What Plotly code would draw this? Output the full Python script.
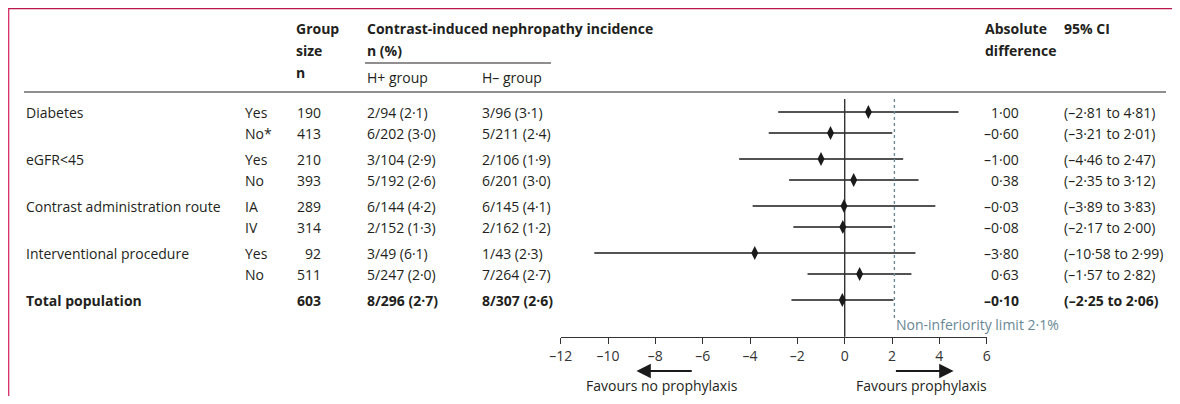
import plotly.graph_objects as go

# ---------------- data ----------------
categories = ["Diabetes", "", "eGFR<45", "", "Contrast administration route", "",
              "Interventional procedure", "", "Total population"]
subgroups = ["Yes", "No*", "Yes", "No", "IA", "IV", "Yes", "No", ""]
group_n = [190, 413, 210, 393, 289, 314, 92, 511, 603]
h_plus = ["2/94 (2·1)", "6/202 (3·0)", "3/104 (2·9)", "5/192 (2·6)", "6/144 (4·2)",
          "2/152 (1·3)", "3/49 (6·1)", "5/247 (2·0)", "8/296 (2·7)"]
h_minus = ["3/96 (3·1)", "5/211 (2·4)", "2/106 (1·9)", "6/201 (3·0)", "6/145 (4·1)",
           "2/162 (1·2)", "1/43 (2·3)", "7/264 (2·7)", "8/307 (2·6)"]
abs_diff = [1.00, -0.60, -1.00, 0.38, -0.03, -0.08, -3.80, 0.63, -0.10]
ci_low = [-2.81, -3.21, -4.46, -2.35, -3.89, -2.17, -10.58, -1.57, -2.25]
ci_high = [4.81, 2.01, 2.47, 3.12, 3.83, 2.00, 2.99, 2.82, 2.06]
noninf_limit = 2.1
tick_vals = [-12, -10, -8, -6, -4, -2, 0, 2, 4, 6]

# ---------------- layout constants (page pixel coordinates) ----------------
PAGE_W, PAGE_H = 1180, 404
OFF = 8                                  # default html body margin
W, H = PAGE_W - 2 * OFF, PAGE_H - 2 * OFF
ROW_Y = [112, 133, 159, 180, 206, 227, 253, 274, 300]
BOLD_ROWS = {8}
FONT = "Open Sans"
TXT = "#231f20"
FS = 14
PX0, PX1 = 560.7, 986.7          # page pixel positions of -12 and 6
AXIS_Y = 336.7


def fmt(v, nd=2):
    return f"{v:.{nd}f}".replace(".", "·").replace("-", "–")


def px(x):
    return (x - OFF) / W


def py(y):
    return 1 - (y - OFF) / H


fig = go.Figure()

# forest: CI lines
for i, (lo, hi) in enumerate(zip(ci_low, ci_high)):
    fig.add_trace(go.Scatter(x=[lo, hi], y=[ROW_Y[i], ROW_Y[i]], mode="lines",
                             line=dict(color="#1a1a1a", width=1.4),
                             hoverinfo="skip", showlegend=False))

# zero line and non-inferiority line
fig.add_trace(go.Scatter(x=[0, 0], y=[99, AXIS_Y], mode="lines",
                         line=dict(color="#333333", width=1.4),
                         hoverinfo="skip", showlegend=False))
fig.add_trace(go.Scatter(x=[noninf_limit, noninf_limit], y=[99, 318], mode="lines",
                         line=dict(color="#6f8a98", width=1.4, dash="3px,3px"),
                         hoverinfo="skip", showlegend=False))

# point estimates
fig.add_trace(go.Scatter(x=abs_diff, y=ROW_Y, mode="markers",
                         marker=dict(symbol="diamond-tall", size=10, color="#1a1a1a"),
                         hoverinfo="skip", showlegend=False))

ann = []


def txt(x, y, s, bold=False, anchor="left", color=TXT, size=FS, xref="paper"):
    if bold:
        s = f"<b>{s}</b>"
    ann.append(dict(x=x if xref != "paper" else px(x), y=y, xref=xref, yref="y",
                    text=s, showarrow=False, xanchor=anchor, yanchor="middle",
                    font=dict(family=FONT, size=size, color=color)))


# headers
txt(294, 28, "Group", True)
txt(294, 50, "size", True)
txt(294, 72, "n", True)
txt(365, 28, "Contrast-induced nephropathy incidence", True)
txt(365, 50, "n (%)", True)
txt(365, 77, "H+ group")
txt(480, 77, "H– group")
txt(983, 28, "Absolute", True)
txt(983, 50, "difference", True)
txt(1062, 28, "95% CI", True)

# rows
for i in range(len(ROW_Y)):
    b = i in BOLD_ROWS
    y = ROW_Y[i]
    if categories[i]:
        txt(24, y, categories[i], b)
    if subgroups[i]:
        txt(243, y, subgroups[i], b)
    txt(323, y, str(group_n[i]), b, anchor="right")
    txt(365, y, h_plus[i], b)
    txt(480, y, h_minus[i], b)
    txt(1021, y, fmt(abs_diff[i]), b, anchor="right")
    txt(1062, y, f"({fmt(ci_low[i])} to {fmt(ci_high[i])})", b)

# non-inferiority label
txt(noninf_limit, 324, "Non-inferiority limit 2·1%", color="#6a8795", xref="x")

# favours labels and arrows
txt(-7.7, 385.5, "Favours no prophylaxis", anchor="center", xref="x")
txt(3.23, 385.5, "Favours prophylaxis", anchor="center", xref="x")
for tip, tail in [(-8.8, -6.4), (4.6, 2.1)]:
    ann.append(dict(x=tip, y=371, ax=tail, ay=371, xref="x", yref="y",
                    axref="x", ayref="y", text="", showarrow=True,
                    arrowhead=2, arrowsize=1.6, arrowwidth=1.8, arrowcolor="#1a1a1a"))

shapes = [
    # rules
    dict(type="line", xref="paper", yref="y", x0=px(24), x1=px(1166), y0=92, y1=92,
         line=dict(color=TXT, width=1.2)),
    dict(type="line", xref="paper", yref="y", x0=px(365), x1=px(551), y0=63, y1=63,
         line=dict(color=TXT, width=1.2)),
    # red frame
    dict(type="line", xref="paper", yref="paper", x0=0, x1=1, y0=py(8.6), y1=py(8.6),
         line=dict(color="#b8194a", width=1.5)),
    dict(type="line", xref="paper", yref="paper", x0=px(8.6), x1=px(8.6), y0=py(8.6), y1=0,
         line=dict(color="#d8356c", width=1.5)),
]

fig.update_layout(
    width=W, height=H, margin=dict(l=0, r=0, t=0, b=0, pad=0, autoexpand=False),
    paper_bgcolor="white", plot_bgcolor="rgba(0,0,0,0)",
    annotations=ann, shapes=shapes,
    xaxis=dict(domain=[px(PX0), px(PX1)], range=[-12, 6], anchor="free",
               position=py(AXIS_Y), showgrid=False, zeroline=False, automargin=False,
               showline=True, linecolor="#333333", linewidth=1.4,
               ticks="outside", ticklen=6, tickwidth=1.4, tickcolor="#333333",
               tickvals=tick_vals, ticktext=[fmt(v, 0) for v in tick_vals],
               tickfont=dict(family=FONT, size=FS, color="#333333")),
    yaxis=dict(domain=[0, 1], range=[OFF + H, OFF], visible=False, showgrid=False,
               automargin=False),
    font=dict(family=FONT),
)

fig.write_html("out.html")
